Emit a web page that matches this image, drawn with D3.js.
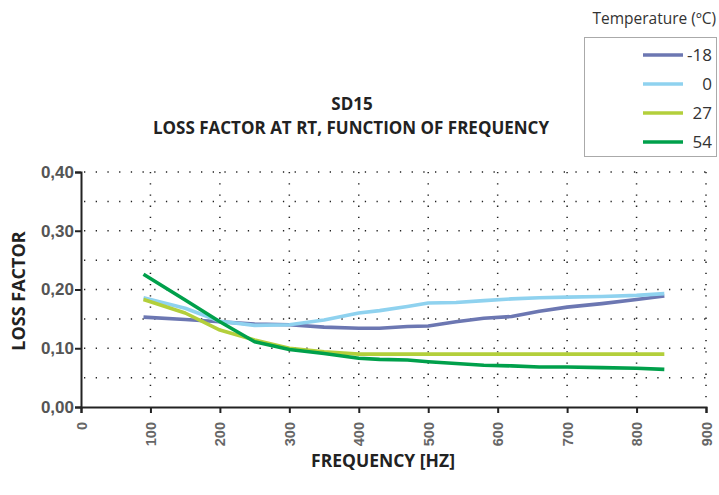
<!DOCTYPE html>
<html>
<head>
<meta charset="utf-8">
<script src="https://cdn.jsdelivr.net/npm/d3@7"></script>
<style>
  body { margin: 0; background: #fff; }
  svg { font-family: 'Open Sans', 'Noto Sans', sans-serif; }
</style>
</head>
<body>
<svg id="chart" width="719" height="495"></svg>
<script>
// frequencies (Hz) where the curves were read
const freqs = [90, 150, 200, 250, 300, 350, 400, 430, 470, 500, 540, 580, 620, 660, 700, 750, 800, 840];

const temps = ['-18', '0', '27', '54'];
const colors = ['#6c77b2', '#8fd2ef', '#b3cf3b', '#00a04b'];

const lf_m18 = [0.153, 0.149, 0.145, 0.141, 0.140, 0.136, 0.134, 0.134, 0.137, 0.138, 0.145, 0.151, 0.154, 0.163, 0.170, 0.176, 0.183, 0.189];
const lf_0   = [0.186, 0.168, 0.146, 0.139, 0.140, 0.148, 0.160, 0.164, 0.171, 0.177, 0.178, 0.181, 0.184, 0.186, 0.187, 0.188, 0.190, 0.193];
const lf_27  = [0.183, 0.160, 0.131, 0.114, 0.100, 0.094, 0.090, 0.090, 0.090, 0.090, 0.090, 0.090, 0.090, 0.090, 0.090, 0.090, 0.090, 0.090];
const lf_54  = [0.226, 0.182, 0.145, 0.111, 0.098, 0.091, 0.083, 0.081, 0.080, 0.077, 0.074, 0.071, 0.070, 0.068, 0.068, 0.067, 0.066, 0.064];

const xTicks = [0, 100, 200, 300, 400, 500, 600, 700, 800, 900];
const yTicks = [0, 0.1, 0.2, 0.3, 0.4];
const yGrid = [0.05, 0.1, 0.15, 0.2, 0.25, 0.3, 0.35, 0.4];

const series = [lf_m18, lf_0, lf_27, lf_54];

const svg = d3.select('#chart');
const plotLeft = 81, plotRight = 706, plotTop = 172, plotBottom = 407;

const x = d3.scaleLinear().domain([0, 900]).range([plotLeft, plotRight]);
const y = d3.scaleLinear().domain([0, 0.4]).range([plotBottom, plotTop]);

// dotted grid
svg.append('g')
  .selectAll('line')
  .data(yGrid)
  .join('line')
  .attr('x1', plotLeft + 3)
  .attr('x2', plotRight)
  .attr('y1', d => y(d))
  .attr('y2', d => y(d))
  .attr('stroke', '#222')
  .attr('stroke-width', 1.5)
  .attr('stroke-dasharray', '1.3 10.4');

svg.append('g')
  .selectAll('line')
  .data(xTicks.slice(1))
  .join('line')
  .attr('x1', d => x(d))
  .attr('x2', d => x(d))
  .attr('y1', plotTop)
  .attr('y2', plotBottom)
  .attr('stroke', '#222')
  .attr('stroke-width', 1.5)
  .attr('stroke-dasharray', '1.3 9.9');

// curves
const line = d3.line()
  .x((d, i) => x(freqs[i]))
  .y(d => y(d));

svg.append('g')
  .selectAll('path')
  .data(series)
  .join('path')
  .attr('d', d => line(d))
  .attr('fill', 'none')
  .attr('stroke', (d, i) => colors[i])
  .attr('stroke-width', 3.6)
  .attr('stroke-linejoin', 'round');

// axes
const yAxis = svg.append('g')
  .attr('transform', `translate(${plotLeft},0)`)
  .call(d3.axisLeft(y).tickValues(yTicks).tickSize(6).tickFormat(d => d3.format('.2f')(d).replace('.', ',')));
yAxis.select('.domain').attr('stroke', '#222').attr('stroke-width', 2);
yAxis.selectAll('.tick line').attr('stroke', '#222').attr('stroke-width', 2);
yAxis.selectAll('.tick text')
  .attr('x', -7)
  .attr('fill', '#555')
  .style('font-size', '17px')
  .style('font-weight', 'bold');

const xAxis = svg.append('g')
  .attr('transform', `translate(0,${plotBottom})`)
  .call(d3.axisBottom(x).tickValues(xTicks).tickSize(6).tickFormat(d3.format('d')));
xAxis.select('.domain').attr('stroke', '#222').attr('stroke-width', 2);
xAxis.selectAll('.tick line').attr('stroke', '#222').attr('stroke-width', 2);
xAxis.selectAll('.tick text')
  .attr('transform', 'rotate(-90)')
  .attr('x', -15)
  .attr('y', 0)
  .attr('dy', '0.35em')
  .attr('text-anchor', 'end')
  .attr('fill', '#666')
  .style('font-size', '14.5px')
  .style('font-weight', '600');

// titles
svg.append('text')
  .attr('x', 352).attr('y', 110)
  .attr('text-anchor', 'middle')
  .attr('fill', '#222')
  .style('font-size', '17px').style('font-weight', 'bold')
  .text('SD15');
svg.append('text')
  .attr('x', 351).attr('y', 134)
  .attr('text-anchor', 'middle')
  .attr('fill', '#222')
  .style('font-size', '17px').style('font-weight', 'bold')
  .text('LOSS FACTOR AT RT, FUNCTION OF FREQUENCY');

svg.append('text')
  .attr('transform', 'translate(25,291) rotate(-90)')
  .attr('text-anchor', 'middle')
  .attr('fill', '#222')
  .style('font-size', '18px').style('font-weight', 'bold')
  .text('LOSS FACTOR');

svg.append('text')
  .attr('x', 383).attr('y', 467)
  .attr('text-anchor', 'middle')
  .attr('fill', '#222')
  .style('font-size', '17.5px').style('font-weight', 'bold')
  .text('FREQUENCY [HZ]');

// legend
svg.append('text')
  .attr('x', 716).attr('y', 24)
  .attr('text-anchor', 'end')
  .attr('fill', '#333')
  .style('font-size', '15.5px')
  .text('Temperature (ºC)');

svg.append('rect')
  .attr('x', 584.5).attr('y', 37.5)
  .attr('width', 132).attr('height', 119)
  .attr('fill', '#fff')
  .attr('stroke', '#aaa');

const legend = svg.append('g')
  .selectAll('g')
  .data(temps)
  .join('g')
  .attr('transform', (d, i) => `translate(0,${55 + i * 29})`);
legend.append('line')
  .attr('x1', 643).attr('x2', 683)
  .attr('stroke', (d, i) => colors[i])
  .attr('stroke-width', 3.6);
legend.append('text')
  .attr('x', 712)
  .attr('dy', '0.36em')
  .attr('text-anchor', 'end')
  .attr('fill', '#333')
  .style('font-size', '17px')
  .text(d => d);
</script>
</body>
</html>
